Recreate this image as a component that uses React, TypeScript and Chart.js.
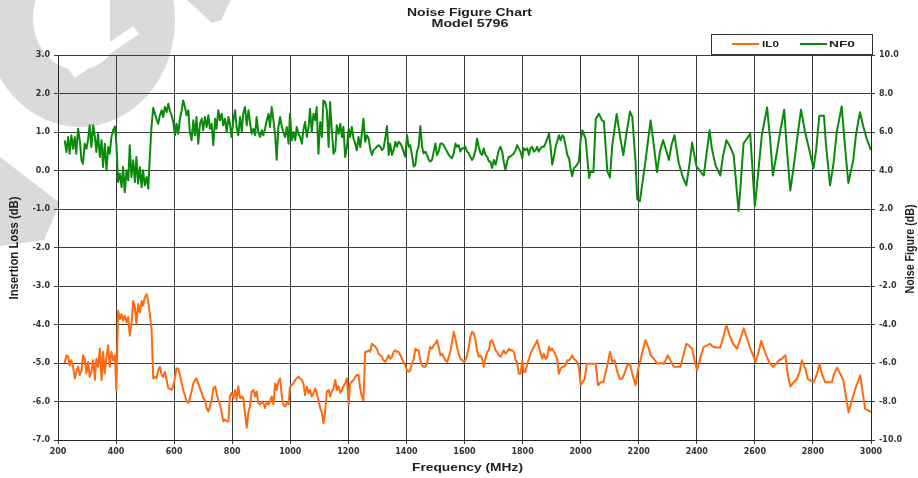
import React, { useEffect, useRef } from "react";
import { Chart, registerables } from "chart.js";

Chart.register(...registerables);

// ---------- Text ----------
const TITLE = "Noise Figure Chart";
const SUBTITLE = "Model 5796";
const X_TITLE = "Frequency (MHz)";
const Y_LEFT_TITLE = "Insertion Loss (dB)";
const Y_RIGHT_TITLE = "Noise Figure (dB)";
const SERIES_NAMES = ["IL0", "NF0"];

// ---------- Axes ----------
const X_MIN = 200;
const X_MAX = 3000;
const X_STEP = 200;
const IL_MIN = -7;
const IL_MAX = 3;
const IL_STEP = 1;
const NF_MIN = -10;
const NF_MAX = 10;
const NF_STEP = 2;

// ---------- Data: shared sweep (MHz) ----------
const SWEEP_FREQ = [
  223, 229, 235, 240, 246, 252, 258, 263, 269, 275, 281, 286, 292, 298, 304, 309,
  315, 321, 327, 332, 338, 344, 350, 355, 361, 367, 373, 378, 384, 390, 396, 401,
  407, 413, 419, 424, 430, 436, 442, 447, 453, 459, 465, 470, 476, 482, 488, 493,
  499, 505, 511, 516, 522, 528, 534, 539, 545, 551, 557, 562, 568, 574, 580, 585,
  591, 597, 603, 608, 614, 620, 626, 631, 637, 643, 649, 654, 660, 666, 672, 677,
  683, 689, 695, 700, 706, 712, 718, 723, 729, 735, 741, 746, 752, 758, 764, 769,
  775, 781, 787, 792, 798, 804, 810, 815, 821, 827, 833, 838, 844, 850, 856, 861,
  867, 873, 879, 884, 890, 896, 902, 907, 913, 919, 925, 930, 936, 942, 948, 953,
  959, 965, 971, 976, 982, 988, 994, 999, 1005, 1011, 1017, 1022, 1028, 1034, 1040, 1045,
  1051, 1057, 1063, 1068, 1074, 1080, 1086, 1091, 1097, 1103, 1109, 1114, 1120, 1126, 1132, 1137,
  1143, 1149, 1155, 1160, 1166, 1172, 1178, 1183, 1189, 1195, 1201, 1206, 1212, 1218, 1224, 1229,
  1235, 1241, 1247, 1252, 1258, 1264, 1270, 1275, 1281, 1287, 1293, 1298, 1304, 1310, 1316, 1321,
  1327, 1333, 1339, 1344, 1350, 1356, 1362, 1367, 1373, 1379, 1385, 1390, 1396, 1402, 1408, 1413,
  1419, 1425, 1431, 1436, 1442, 1448, 1454, 1459, 1465, 1471, 1477, 1482, 1488, 1494, 1500, 1505,
  1511, 1517, 1523, 1528, 1534, 1540, 1546, 1551, 1557, 1563, 1569, 1574, 1580, 1586, 1592, 1597,
  1603, 1609, 1615, 1620, 1626, 1632, 1638, 1643, 1649, 1655, 1661, 1666, 1672, 1678, 1684, 1689,
  1695, 1701, 1707, 1712, 1718, 1724, 1730, 1735, 1741, 1747, 1753, 1758, 1764, 1770, 1776, 1781,
  1787, 1793, 1799, 1804, 1810, 1816, 1822, 1827, 1833, 1839, 1845, 1850, 1856, 1862, 1868, 1873,
  1879, 1885, 1891, 1896, 1902, 1908, 1914, 1919, 1925, 1931, 1937, 1942, 1948, 1954, 1960, 1965,
  1971, 1977, 1983, 1988, 1994, 2000,
];

// Insertion loss (dB) on the sweep
const IL_SWEEP = [
  -5.0, -4.8, -4.84, -5.06, -4.93, -5.1, -5.4, -5.23, -5.1, -5.31,
  -5.19, -4.8, -4.89, -5.27, -4.97, -5.36, -5.23, -4.93, -5.44, -4.89,
  -5.1, -4.63, -5.44, -4.71, -5.27, -4.84, -4.54, -5.1, -4.71, -4.93,
  -4.8, -5.7, -3.64, -3.86, -3.73, -3.9, -3.77, -3.94, -3.81, -4.29,
  -3.99, -3.39, -3.56, -3.99, -3.47, -3.69, -3.39, -3.51, -3.3, -3.21,
  -3.39, -3.73, -4.1, -5.4, -5.36, -5.4, -5.19, -5.1, -5.31, -5.36,
  -5.23, -5.44, -5.66, -5.66, -5.7, -5.61, -5.36, -5.14, -5.14, -5.31,
  -5.53, -5.7, -5.83, -6.0, -6.04, -5.91, -5.74, -5.53, -5.44, -5.4,
  -5.53, -5.66, -5.78, -5.91, -5.96, -6.17, -6.26, -6.13, -5.96, -5.66,
  -5.61, -5.78, -5.96, -6.08, -6.3, -6.51, -6.47, -6.51, -6.51, -5.87,
  -5.78, -5.91, -5.7, -5.96, -5.61, -5.91, -5.87, -5.91, -6.3, -6.68,
  -6.26, -6.13, -5.74, -5.7, -5.87, -5.74, -6.04, -6.08, -6.0, -6.04,
  -6.17, -6.0, -6.08, -6.0, -5.87, -6.08, -5.53, -5.7, -5.48, -5.4,
  -5.87, -6.08, -6.13, -6.04, -6.08, -5.61, -5.57, -5.53, -5.44, -5.4,
  -5.36, -5.4, -5.44, -5.53, -5.83, -5.61, -5.78, -5.7, -5.87, -5.78,
  -5.66, -5.78, -5.96, -6.17, -6.3, -6.56, -6.26, -5.74, -5.7, -5.87,
  -5.74, -5.66, -5.44, -5.7, -5.61, -5.78, -5.7, -5.61, -5.53, -5.4,
  -6.08, -5.53, -5.48, -5.44, -5.36, -5.31, -5.31, -5.67, -5.89, -5.97,
  -4.71, -4.71, -4.67, -4.71, -4.5, -4.54, -4.58, -4.63, -4.76, -4.8,
  -4.84, -4.93, -4.97, -4.89, -4.8, -4.89, -4.84, -4.71, -4.67, -4.71,
  -4.71, -4.8, -4.89, -4.97, -5.06, -5.19, -5.23, -5.19, -5.02, -4.89,
  -4.63, -4.67, -4.67, -4.93, -5.06, -5.1, -5.1, -5.02, -4.76, -4.58,
  -4.63, -4.54, -4.5, -4.41, -4.58, -4.8, -4.76, -4.84, -4.93, -4.97,
  -4.84, -4.71, -4.45, -4.19, -4.37, -4.58, -4.76, -4.89, -4.93, -4.97,
  -4.93, -4.8, -4.58, -4.32, -4.19, -4.23, -4.41, -4.67, -4.84, -4.8,
  -4.89, -5.1, -4.89, -4.71, -4.67, -4.45, -4.41, -4.54, -4.67, -4.71,
  -4.8, -4.84, -4.76, -4.67, -4.76, -4.71, -4.63, -4.67, -4.67, -4.71,
  -4.93, -4.97, -5.28, -5.28, -4.93, -5.23, -5.23, -5.02, -4.89, -4.76,
  -4.67, -4.58, -4.5, -4.41, -4.58, -4.76, -4.89, -4.76, -4.89, -4.84,
  -4.58, -4.67, -4.63, -4.71, -4.8, -4.89, -5.28, -5.15, -5.1, -5.1,
  -5.06, -4.93, -4.93, -4.89, -4.8, -4.89, -4.93, -4.97, -5.1, -5.58,
];

// Noise figure (dB) on the sweep
const NF_SWEEP = [
  5.57, 4.96, 5.74, 4.87, 5.83, 5.13, 5.74, 4.87, 6.17, 5.57,
  4.53, 4.35, 5.39, 5.13, 5.65, 6.35, 5.22, 6.35, 5.74, 4.96,
  5.91, 4.7, 5.57, 4.18, 5.39, 4.01, 5.22, 4.87, 5.74, 6.09,
  6.29, 5.39, 3.4, 3.84, 3.14, 4.18, 2.88, 4.01, 3.49, 5.31,
  3.66, 4.53, 3.4, 4.7, 3.32, 4.18, 3.14, 4.01, 3.23, 3.66,
  3.06, 4.7, 6.26, 7.26, 6.95, 6.69, 6.43, 6.87, 7.13, 6.78,
  7.3, 7.04, 7.47, 7.13, 6.87, 6.52, 5.83, 6.43, 5.91, 6.69,
  7.13, 7.64, 7.3, 6.87, 7.13, 6.0, 5.57, 6.61, 5.83, 6.78,
  5.39, 6.43, 6.69, 6.09, 6.78, 6.26, 6.87, 6.17, 6.43, 5.31,
  6.69, 6.17, 7.13, 6.61, 6.95, 6.35, 6.69, 6.0, 6.78, 6.43,
  5.74, 6.61, 7.13, 6.26, 5.83, 6.78, 6.0, 6.95, 7.3, 6.35,
  7.13, 6.52, 5.91, 6.17, 5.83, 6.78, 6.0, 5.74, 6.09, 5.83,
  6.17, 6.61, 6.95, 6.26, 7.3, 6.61, 5.83, 4.56, 6.26, 6.78,
  6.26, 6.0, 5.74, 6.26, 5.39, 6.95, 5.57, 6.0, 5.57, 6.26,
  5.91, 5.74, 5.39, 6.09, 6.52, 5.74, 6.26, 7.21, 6.0, 6.95,
  6.61, 7.3, 4.87, 6.52, 5.74, 7.64, 7.56, 7.13, 5.22, 7.56,
  6.09, 4.87, 5.05, 6.35, 5.91, 6.43, 5.74, 6.26, 4.7, 5.22,
  6.17, 5.74, 6.26, 5.65, 5.39, 5.05, 5.74, 5.22, 6.0, 6.69,
  5.49, 5.83, 5.66, 5.15, 4.81, 5.06, 5.15, 5.23, 5.32, 5.23,
  5.06, 5.15, 5.66, 6.31, 4.81, 5.4, 4.81, 5.06, 5.49, 5.23,
  5.49, 5.4, 5.23, 4.98, 4.72, 5.83, 5.23, 5.32, 4.81, 4.21,
  4.3, 4.98, 5.23, 6.31, 5.23, 4.89, 4.98, 4.81, 4.55, 4.47,
  4.55, 4.98, 5.4, 4.81, 4.98, 5.4, 5.4, 5.32, 5.15, 4.98,
  4.81, 4.72, 4.64, 4.89, 5.4, 5.23, 5.32, 4.98, 5.15, 5.15,
  5.23, 4.98, 4.89, 4.72, 4.55, 4.72, 5.06, 5.66, 5.23, 4.89,
  4.81, 5.15, 4.81, 4.72, 4.47, 4.47, 4.13, 4.55, 4.3, 4.64,
  5.06, 5.23, 4.98, 4.47, 4.04, 4.47, 4.72, 4.72, 4.81, 4.89,
  5.06, 5.32, 5.15, 4.98, 4.64, 5.15, 5.06, 5.15, 4.81, 5.15,
  5.23, 4.98, 5.06, 5.23, 4.98, 5.15, 5.23, 5.23, 5.4, 5.66,
  5.91, 5.32, 4.3, 4.72, 5.23, 5.49, 5.83, 5.57, 5.83, 5.74,
  5.32, 4.81, 4.64, 4.13, 3.7, 4.13, 4.21, 4.3, 4.47, 5.57,
];

// ---------- Data: coarse high-band points ----------
const IL_TAIL_FREQ = [
  2014, 2021, 2029, 2040, 2052, 2060, 2069, 2078, 2092, 2101,
  2109, 2117, 2126, 2135, 2143, 2151, 2160, 2170, 2178, 2189,
  2198, 2206, 2214, 2223, 2233, 2241, 2252, 2264, 2275, 2287,
  2300, 2309, 2321, 2332, 2344, 2355, 2364, 2372, 2384, 2392,
  2401, 2413, 2424, 2436, 2445, 2456, 2468, 2481, 2493, 2502,
  2513, 2525, 2539, 2550, 2562, 2573, 2585, 2594, 2602, 2613,
  2622, 2633, 2644, 2653, 2662, 2674, 2682, 2693, 2705, 2713,
  2722, 2734, 2745, 2754, 2762, 2774, 2782, 2791, 2802, 2814,
  2823, 2831, 2842, 2854, 2865, 2873, 2883, 2894, 2905, 2915,
  2923, 2934, 2946, 2954, 2963, 2972, 2980, 2991, 3000,
];
const IL_TAIL = [
  -5.41, -5.02, -5.02, -5.02, -5.02, -5.58, -5.5, -5.5, -5.06, -4.71,
  -4.97, -4.93, -5.23, -5.41, -5.41, -5.28, -5.06, -5.02, -5.28, -5.58,
  -5.15, -4.93, -4.67, -4.41, -4.58, -4.8, -4.89, -5.02, -5.0, -5.02,
  -4.8, -4.93, -5.1, -5.1, -5.1, -4.76, -4.5, -4.54, -4.63, -4.93,
  -5.19, -4.84, -4.58, -4.54, -4.5, -4.58, -4.6, -4.6, -4.28, -4.02,
  -4.28, -4.5, -4.63, -4.37, -4.1, -4.37, -4.63, -4.8, -4.97, -4.71,
  -4.43, -4.67, -4.89, -5.02, -5.1, -5.02, -4.93, -4.89, -4.8, -5.28,
  -5.61, -5.5, -5.41, -5.23, -4.93, -5.15, -5.41, -5.45, -5.5, -5.28,
  -5.02, -5.28, -5.5, -5.5, -5.5, -5.28, -5.12, -5.28, -5.45, -5.93,
  -6.28, -5.97, -5.67, -5.5, -5.32, -5.8, -6.19, -6.23, -6.28,
];

const NF_TAIL_FREQ = [
  2006, 2017, 2029, 2034, 2044, 2052, 2063, 2074, 2080, 2092,
  2101, 2109, 2124, 2137, 2147, 2155, 2170, 2178, 2189, 2195,
  2204, 2223, 2241, 2252, 2263, 2273, 2284, 2296, 2304, 2313,
  2323, 2338, 2353, 2364, 2376, 2384, 2399, 2412, 2424, 2433,
  2444, 2452, 2464, 2481, 2490, 2502, 2515, 2527, 2538, 2544,
  2552, 2561, 2584, 2600, 2613, 2624, 2642, 2653, 2662, 2676,
  2687, 2701, 2710, 2722, 2733, 2745, 2759, 2773, 2785, 2802,
  2811, 2822, 2838, 2845, 2859, 2871, 2882, 2899, 2911, 2922,
  2939, 2948, 2962, 2974, 2985, 3000,
];
const NF_TAIL = [
  6.09, 5.66, 3.61, 3.95, 3.91, 6.68, 6.94, 6.6, 6.55, 3.95,
  3.64, 5.32, 6.94, 5.66, 4.8, 5.66, 7.06, 6.77, 4.46, 2.5,
  2.41, 4.46, 6.6, 5.32, 3.91, 4.97, 5.57, 4.97, 4.55, 5.32,
  5.83, 4.38, 3.61, 3.23, 4.46, 5.45, 4.21, 3.95, 3.74, 4.8,
  6.09, 5.15, 4.29, 3.74, 4.72, 5.57, 5.23, 4.8, 2.92, 1.9,
  3.44, 5.4, 5.91, 2.15, 4.12, 5.83, 7.28, 5.57, 3.74, 4.97,
  6.0, 7.16, 5.15, 2.96, 4.12, 5.57, 7.16, 6.0, 5.23, 4.12,
  5.06, 6.85, 6.85, 5.32, 3.23, 4.38, 6.0, 7.33, 5.15, 3.35,
  4.55, 5.83, 7.03, 6.26, 5.66, 5.06,
];

const IL_COLOR = "#ff6a10";
const NF_COLOR = "#0a8a0a";

function toPoints(xs: number[], ys: number[]) {
  return xs.map((x, i) => ({ x, y: ys[i] }));
}

function drawText(
  ctx: CanvasRenderingContext2D,
  text: string,
  x: number,
  y: number,
  font: string,
  targetWidth: number,
  align: CanvasTextAlign,
  rotate: boolean,
  thick: number
) {
  ctx.save();
  ctx.font = font;
  const w = ctx.measureText(text).width;
  ctx.translate(x, y);
  if (rotate) ctx.rotate(-Math.PI / 2);
  ctx.scale(targetWidth / w, thick);
  ctx.fillStyle = "#1e1e1e";
  ctx.textAlign = align;
  ctx.textBaseline = "middle";
  ctx.fillText(text, 0, 0);
  ctx.restore();
}

const decorPlugin = {
  id: "decor",
  beforeDraw(chart: any) {
    const ctx: CanvasRenderingContext2D = chart.ctx;
    ctx.save();
    ctx.fillStyle = "#dadada";
    // watermark ring
    ctx.beginPath();
    ctx.ellipse(80, 20, 95, 107, 0, 0, Math.PI * 2);
    ctx.ellipse(78, 18, 45, 52, 0, 0, Math.PI * 2, true);
    ctx.fill();
    ctx.save();
    ctx.beginPath();
    ctx.ellipse(78, 18, 46, 53, 0, 0, Math.PI * 2);
    ctx.clip();
    ctx.fillRect(110, -40, 60, 130);
    ctx.restore();
    ctx.strokeStyle = "#ffffff";
    ctx.lineWidth = 10;
    ctx.beginPath();
    ctx.moveTo(72, 74);
    ctx.lineTo(136, 30);
    ctx.stroke();
    // top piece
    ctx.beginPath();
    ctx.moveTo(187, 0);
    ctx.lineTo(231, 0);
    ctx.lineTo(221, 20);
    ctx.lineTo(212, 23);
    ctx.closePath();
    ctx.fill();
    // left band
    ctx.beginPath();
    ctx.moveTo(0, 157);
    ctx.lineTo(60, 203);
    ctx.lineTo(44, 240);
    ctx.lineTo(0, 246);
    ctx.closePath();
    ctx.fill();
    ctx.restore();
  },
  afterDraw(chart: any) {
    const ctx: CanvasRenderingContext2D = chart.ctx;
    const f = 'bold 10px "Liberation Sans", Arial, sans-serif';
    drawText(ctx, TITLE, 469.5, 13.5, f, 125, "center", false, 1);
    drawText(ctx, SUBTITLE, 470, 24.7, f, 77, "center", false, 1);
    drawText(ctx, X_TITLE, 467.5, 468.5, f, 111, "center", false, 1);
    const fv = 'bold 10.5px "Liberation Sans", Arial, sans-serif';
    drawText(ctx, Y_LEFT_TITLE, 15, 248, fv, 103, "center", true, 1.15);
    drawText(ctx, Y_RIGHT_TITLE, 911, 249, fv, 89, "center", true, 1.15);

    // legend box
    ctx.save();
    ctx.strokeStyle = "#333";
    ctx.lineWidth = 1;
    ctx.strokeRect(711.5, 34.5, 161, 20);
    ctx.lineWidth = 2;
    ctx.strokeStyle = IL_COLOR;
    ctx.beginPath();
    ctx.moveTo(732, 44);
    ctx.lineTo(759, 44);
    ctx.stroke();
    ctx.strokeStyle = NF_COLOR;
    ctx.beginPath();
    ctx.moveTo(800, 44);
    ctx.lineTo(827, 44);
    ctx.stroke();
    ctx.restore();
    const fl = 'bold 9.5px "Liberation Sans", Arial, sans-serif';
    drawText(ctx, SERIES_NAMES[0], 762, 44, fl, 17, "left", false, 1);
    drawText(ctx, SERIES_NAMES[1], 829, 44, fl, 26, "left", false, 1);
  },
};

const tickFont = { family: '"DejaVu Sans", Verdana, sans-serif', size: 8, weight: "bold" as const };
const gridColor = "#3c3c3c";

export default function App() {
  const ref = useRef<HTMLCanvasElement | null>(null);

  useEffect(() => {
    if (!ref.current) return;
    const chart = new Chart(ref.current, {
      type: "line",
      data: {
        datasets: [
          {
            label: SERIES_NAMES[0],
            data: [...toPoints(SWEEP_FREQ, IL_SWEEP), ...toPoints(IL_TAIL_FREQ, IL_TAIL)],
            borderColor: IL_COLOR,
            backgroundColor: IL_COLOR,
            borderWidth: 2,
            pointRadius: 0,
            tension: 0,
            borderJoinStyle: "round",
            yAxisID: "y",
          },
          {
            label: SERIES_NAMES[1],
            data: [...toPoints(SWEEP_FREQ, NF_SWEEP), ...toPoints(NF_TAIL_FREQ, NF_TAIL)],
            borderColor: NF_COLOR,
            backgroundColor: NF_COLOR,
            borderWidth: 2,
            pointRadius: 0,
            tension: 0,
            borderJoinStyle: "round",
            yAxisID: "y1",
          },
        ],
      },
      options: {
        responsive: false,
        animation: false,
        events: [],
        layout: { padding: { top: 55, left: 0, right: 0, bottom: 0 } },
        plugins: {
          legend: { display: false },
          title: { display: false },
          tooltip: { enabled: false },
        },
        scales: {
          x: {
            type: "linear",
            min: X_MIN,
            max: X_MAX,
            afterFit: (s: any) => {
              s.height = 38;
            },
            ticks: {
              stepSize: X_STEP,
              autoSkip: false,
              maxRotation: 0,
              padding: 3,
              color: "#333",
              font: tickFont,
              callback: (v: any) => String(v),
            },
            grid: { color: gridColor, lineWidth: 1, tickLength: 4 },
            border: { display: true, color: "#222", width: 1 },
          },
          y: {
            position: "left",
            min: IL_MIN,
            max: IL_MAX,
            afterFit: (s: any) => {
              s.width = 58;
            },
            ticks: {
              stepSize: IL_STEP,
              padding: 4,
              color: "#333",
              font: tickFont,
              callback: (v: any) => Number(v).toFixed(1),
            },
            grid: { color: gridColor, lineWidth: 1, tickLength: 4 },
            border: { display: true, color: "#222", width: 1 },
          },
          y1: {
            position: "right",
            min: NF_MIN,
            max: NF_MAX,
            afterFit: (s: any) => {
              s.width = 47;
            },
            ticks: {
              stepSize: NF_STEP,
              padding: 4,
              color: "#333",
              font: tickFont,
              callback: (v: any) => Number(v).toFixed(1),
            },
            grid: { drawOnChartArea: false, color: gridColor, tickLength: 4 },
            border: { display: true, color: "#222", width: 1 },
          },
        },
      },
      plugins: [decorPlugin],
    });
    return () => chart.destroy();
  }, []);

  return (
    <div style={{ position: "fixed", left: 0, top: 0, width: 918, height: 478, background: "#fff" }}>
      <canvas ref={ref} width={918} height={478} style={{ display: "block" }} />
    </div>
  );
}
